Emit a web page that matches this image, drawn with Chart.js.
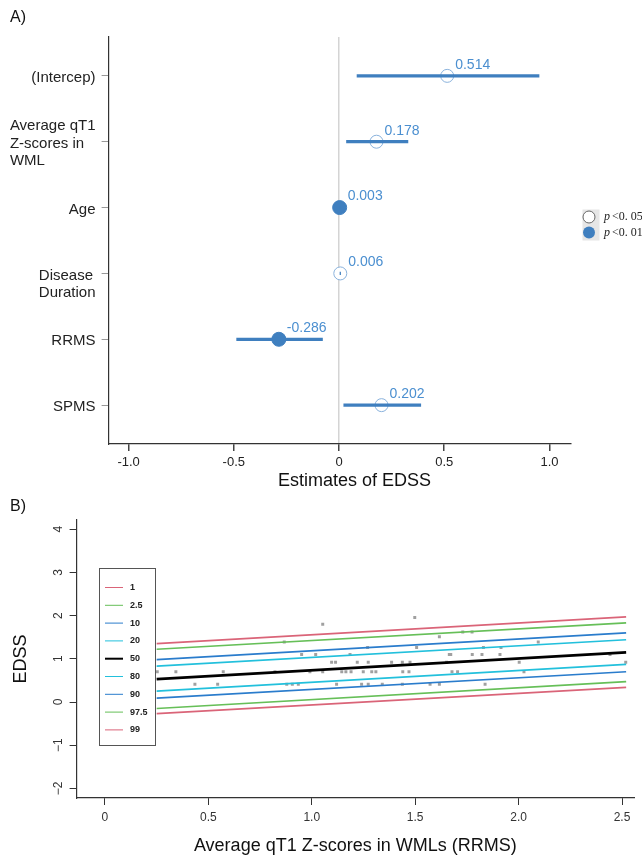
<!DOCTYPE html>
<html>
<head>
<meta charset="utf-8">
<script src="https://cdn.jsdelivr.net/npm/chart.js@4.4.1/dist/chart.umd.min.js"></script>
<style>
  html, body { margin: 0; padding: 0; background: #fff; }
  #wrapA { position: absolute; left: 0; top: 0; width: 642px; height: 495px; }
  #wrapB { position: absolute; left: 0; top: 495px; width: 642px; height: 360px; }
</style>
</head>
<body>
<div id="wrapA"><canvas id="chartA"></canvas></div>
<div id="wrapB"><canvas id="chartB"></canvas></div>
<script>
// ---- panel A : regression estimates ----
let termLabels = [['(Intercep)'], ['Average qT1', 'Z-scores in', 'WML'], ['Age'], ['', 'Disease', 'Duration'], ['RRMS'], ['SPMS']];
let estimates = [0.514, 0.178, 0.003, 0.006, -0.286, 0.202];
let ciLow = [0.084, 0.034, 0.001, 0.003, -0.488, 0.021];
let ciHigh = [0.952, 0.329, 0.005, 0.009, -0.077, 0.390];
let pLevel = ['0.05', '0.05', '0.01', '0.05', '0.01', '0.05'];
let estTicks = [-1.0, -0.5, 0, 0.5, 1.0];
let pLegend = ['0.05', '0.01'];

// ---- panel B : quantile regression ----
let qtLevels = ['1', '2.5', '10', '20', '50', '80', '90', '97.5', '99'];
let qtX = [0.25, 2.52];
let qtStartY = [1.35, 1.22, 0.98, 0.83, 0.53, 0.25, 0.09, -0.15, -0.27];
let qtEndY = [1.97, 1.83, 1.60, 1.44, 1.15, 0.87, 0.70, 0.47, 0.34];
let obsX = [1.498, 1.053, 1.73, 1.775, 1.617, 0.867, 2.095,
  1.27, 1.507, 1.83, 1.915,
  0.951, 1.019, 1.185, 1.665, 1.672, 1.776, 1.823, 1.91, 2.442,
  1.096, 1.115, 1.22, 1.273, 1.386, 1.438, 1.475, 1.652, 2.003, 2.518,
  0.253, 0.343, 0.572, 0.822, 0.991, 1.053, 1.145, 1.165, 1.19, 1.249, 1.29, 1.31, 1.44, 1.47, 1.678, 1.705, 2.026,
  0.435, 0.545, 0.879, 0.906, 0.935, 1.12, 1.241, 1.273, 1.341, 1.438, 1.572, 1.617, 1.838];
let obsY = [1.955, 1.80, 1.62, 1.62, 1.51, 1.39, 1.39,
  1.26, 1.26, 1.26, 1.26,
  1.10, 1.10, 1.10, 1.10, 1.10, 1.10, 1.10, 1.10, 1.10,
  0.92, 0.92, 0.92, 0.92, 0.92, 0.92, 0.92, 0.92, 0.92, 0.92,
  0.70, 0.70, 0.70, 0.70, 0.70, 0.70, 0.70, 0.70, 0.70, 0.70, 0.70, 0.70, 0.70, 0.70, 0.70, 0.70, 0.70,
  0.41, 0.41, 0.41, 0.41, 0.41, 0.41, 0.41, 0.41, 0.41, 0.41, 0.41, 0.41, 0.41];
let xTicksB = [0, 0.5, 1.0, 1.5, 2.0, 2.5];
let yTicksB = [-2, -1, 0, 1, 2, 3, 4];

// styles
let blue = '#3f7fbf';
let labelBlue = '#4b8fd0';
let qtColors = ['#da6478', '#66bf58', '#2a7ccc', '#22c0dc', '#000000', '#22c0dc', '#2a7ccc', '#66bf58', '#da6478'];
let sans = '"Liberation Sans", Arial, sans-serif';

function fmtTick(v) {
  if (v === 0) return '0';
  return v.toFixed(1);
};

// ---------- chart A ----------
let barSets = [];
for (let i = 0; i < estimates.length; i++) {
  barSets.push({
    type: 'line',
    data: [{x: ciLow[i], y: i + 1}, {x: ciHigh[i], y: i + 1}],
    borderColor: blue,
    borderWidth: 3.2,
    pointRadius: 0,
    order: 0
  });
};

let pointSet = {
  data: estimates.map((v, i) => ({x: v, y: i + 1})),
  pointRadius: estimates.map((v, i) => pLevel[i] === '0.01' ? 7 : 6.5),
  pointBackgroundColor: estimates.map((v, i) => pLevel[i] === '0.01' ? blue : '#ffffff'),
  pointBorderColor: estimates.map((v, i) => pLevel[i] === '0.01' ? blue : '#8ab2dc'),
  pointBorderWidth: 1,
  order: 1
};

let panelAText = {
  id: 'panelAText',
  afterDraw(chart) {
    let ctx = chart.ctx;
    let xs = chart.scales.x;
    let ys = chart.scales.y;
    ctx.save();
    // term labels
    ctx.font = '15px ' + sans;
    ctx.fillStyle = '#222';
    ctx.textBaseline = 'middle';
    let lh = 17.5;
    termLabels.forEach((lines, i) => {
      let py = ys.getPixelForValue(i + 1) + 2;
      let wide = Math.max(...lines.map(t => ctx.measureText(t).width));
      let x0 = 95.5 - wide;
      let top = py - (lines.length - 1) * lh / 2;
      lines.forEach((t, k) => {
        ctx.textAlign = 'left';
        ctx.fillText(t, x0, top + k * lh);
      });
    });
    // value labels
    ctx.font = '14px ' + sans;
    ctx.fillStyle = labelBlue;
    ctx.textAlign = 'left';
    estimates.forEach((v, i) => {
      let px = xs.getPixelForValue(v);
      let py = ys.getPixelForValue(i + 1);
      ctx.fillText(v.toFixed(3), px + 8, py - 11);
    });
    // x title
    ctx.font = '18px ' + sans;
    ctx.fillStyle = '#111';
    ctx.textAlign = 'center';
    ctx.fillText('Estimates of EDSS', (chart.chartArea.left + chart.chartArea.right) / 2 + 15, 481);
    // panel letter
    ctx.font = '16px ' + sans;
    ctx.textAlign = 'left';
    ctx.fillText('A)', 10, 18);
    // p legend
    ctx.fillStyle = '#e6e6e6';
    ctx.fillRect(582.5, 209.5, 17, 31);
    pLegend.forEach((p, k) => {
      let cy = 217 + k * 15.5;
      ctx.beginPath();
      ctx.arc(589, cy, 6, 0, Math.PI * 2);
      if (p === '0.01') {
        ctx.fillStyle = blue;
        ctx.fill();
      } else {
        ctx.fillStyle = '#ffffff';
        ctx.fill();
        ctx.strokeStyle = '#666';
        ctx.lineWidth = 1;
        ctx.stroke();
      }
      ctx.fillStyle = '#222';
      ctx.textAlign = 'left';
      ctx.font = 'italic 12px "Liberation Serif", serif';
      ctx.fillText('p', 604, cy);
      ctx.font = '12px "Liberation Serif", serif';
      ctx.fillText('<' + p.replace('.', '. '), 612, cy);
    });
    ctx.restore();
  }
};

new Chart(document.getElementById('chartA'), {
  type: 'scatter',
  data: { datasets: [pointSet].concat(barSets) },
  options: {
    responsive: true,
    maintainAspectRatio: false,
    animation: false,
    layout: { padding: { left: 0, right: 71.5, top: 37, bottom: 0 } },
    plugins: { legend: { display: false }, tooltip: { enabled: false } },
    scales: {
      x: {
        type: 'linear',
        min: -1.095,
        max: 1.10,
        afterBuildTicks: s => { s.ticks = estTicks.map(v => ({value: v})); },
        afterFit: s => { s.height = 51; },
        ticks: {
          callback: v => fmtTick(v),
          font: { size: 13, family: sans },
          color: '#222',
          padding: 4,
          maxRotation: 0
        },
        grid: {
          color: c => (c.tick && c.tick.value === 0) ? '#d4d4d4' : 'rgba(0,0,0,0)',
          lineWidth: 1.5,
          tickColor: '#444',
          tickLength: 7
        },
        border: { color: '#333', width: 1.2 }
      },
      y: {
        type: 'linear',
        reverse: true,
        min: 0.41,
        max: 6.59,
        afterBuildTicks: s => { s.ticks = estimates.map((v, i) => ({value: i + 1})); },
        afterFit: s => { s.width = 108.6; },
        ticks: { callback: () => '' },
        grid: { drawOnChartArea: false, tickColor: '#999', tickLength: 7 },
        border: { color: '#333', width: 1.2 }
      }
    }
  },
  plugins: [panelAText]
});

// ---------- chart B ----------
let qtSets = qtLevels.map((q, i) => ({
  type: 'line',
  label: q,
  data: [{x: qtX[0], y: qtStartY[i]}, {x: qtX[1], y: qtEndY[i]}],
  borderColor: qtColors[i],
  borderWidth: q === '50' ? 2.8 : 1.7,
  pointRadius: 0,
  order: 0
}));

let obsSet = {
  label: 'obs',
  data: obsX.map((x, i) => ({x: x, y: obsY[i]})),
  pointStyle: 'rect',
  pointRadius: 2.1,
  pointBackgroundColor: '#a0a0a0',
  pointBorderWidth: 0,
  order: 1
};

let panelBText = {
  id: 'panelBText',
  afterDraw(chart) {
    let ctx = chart.ctx;
    ctx.save();
    ctx.font = '16px ' + sans;
    ctx.fillStyle = '#111';
    ctx.textBaseline = 'middle';
    ctx.textAlign = 'left';
    ctx.fillText('B)', 10, 12);
    // legend box
    ctx.fillStyle = '#ffffff';
    ctx.fillRect(99, 73, 56, 177);
    ctx.strokeStyle = '#555';
    ctx.lineWidth = 1;
    ctx.strokeRect(99.5, 73.5, 56, 177);
    ctx.font = 'bold 9px ' + sans;
    qtLevels.forEach((q, i) => {
      let y = 92.5 + i * 17.8;
      ctx.beginPath();
      ctx.moveTo(105, y);
      ctx.lineTo(123, y);
      ctx.strokeStyle = qtColors[i];
      ctx.lineWidth = q === '50' ? 2 : 1;
      ctx.stroke();
      ctx.fillStyle = '#222';
      ctx.fillText(q, 130, y);
    });
    ctx.restore();
  }
};

new Chart(document.getElementById('chartB'), {
  type: 'scatter',
  data: { datasets: qtSets.concat([obsSet]) },
  options: {
    responsive: true,
    maintainAspectRatio: false,
    animation: false,
    layout: { padding: { left: 0, right: 8, top: 25, bottom: 0 } },
    plugins: { legend: { display: false }, tooltip: { enabled: false } },
    scales: {
      x: {
        type: 'linear',
        min: -0.137,
        max: 2.558,
        afterBuildTicks: s => { s.ticks = xTicksB.map(v => ({value: v})); },
        afterFit: s => { s.height = 57; },
        ticks: {
          callback: v => fmtTick(v),
          font: { size: 12, family: sans },
          color: '#333',
          padding: 5,
          maxRotation: 0
        },
        grid: { drawOnChartArea: false, tickColor: '#333', tickLength: 7 },
        border: { color: '#333', width: 1.2 },
        title: {
          display: true,
          text: 'Average qT1 Z-scores in WMLs (RRMS)',
          font: { size: 18, family: sans, lineHeight: 1 },
          color: '#111',
          padding: { top: 0, bottom: 0 }
        }
      },
      y: {
        type: 'linear',
        min: -2.22,
        max: 4.21,
        afterBuildTicks: s => { s.ticks = yTicksB.map(v => ({value: v})); },
        afterFit: s => { s.width = 76.6; },
        ticks: {
          callback: v => v < 0 ? '\u2212' + Math.abs(v) : String(v),
          font: { size: 12, family: sans },
          color: '#333',
          minRotation: 90,
          maxRotation: 90,
          crossAlign: 'center',
          padding: 4.5
        },
        grid: { drawOnChartArea: false, tickColor: '#333', tickLength: 7 },
        border: { color: '#333', width: 1.2 },
        title: {
          display: true,
          text: 'EDSS',
          font: { size: 18, family: sans },
          color: '#111',
          padding: { top: 10.7, bottom: 0 }
        }
      }
    }
  },
  plugins: [panelBText]
});
</script>
</body>
</html>
